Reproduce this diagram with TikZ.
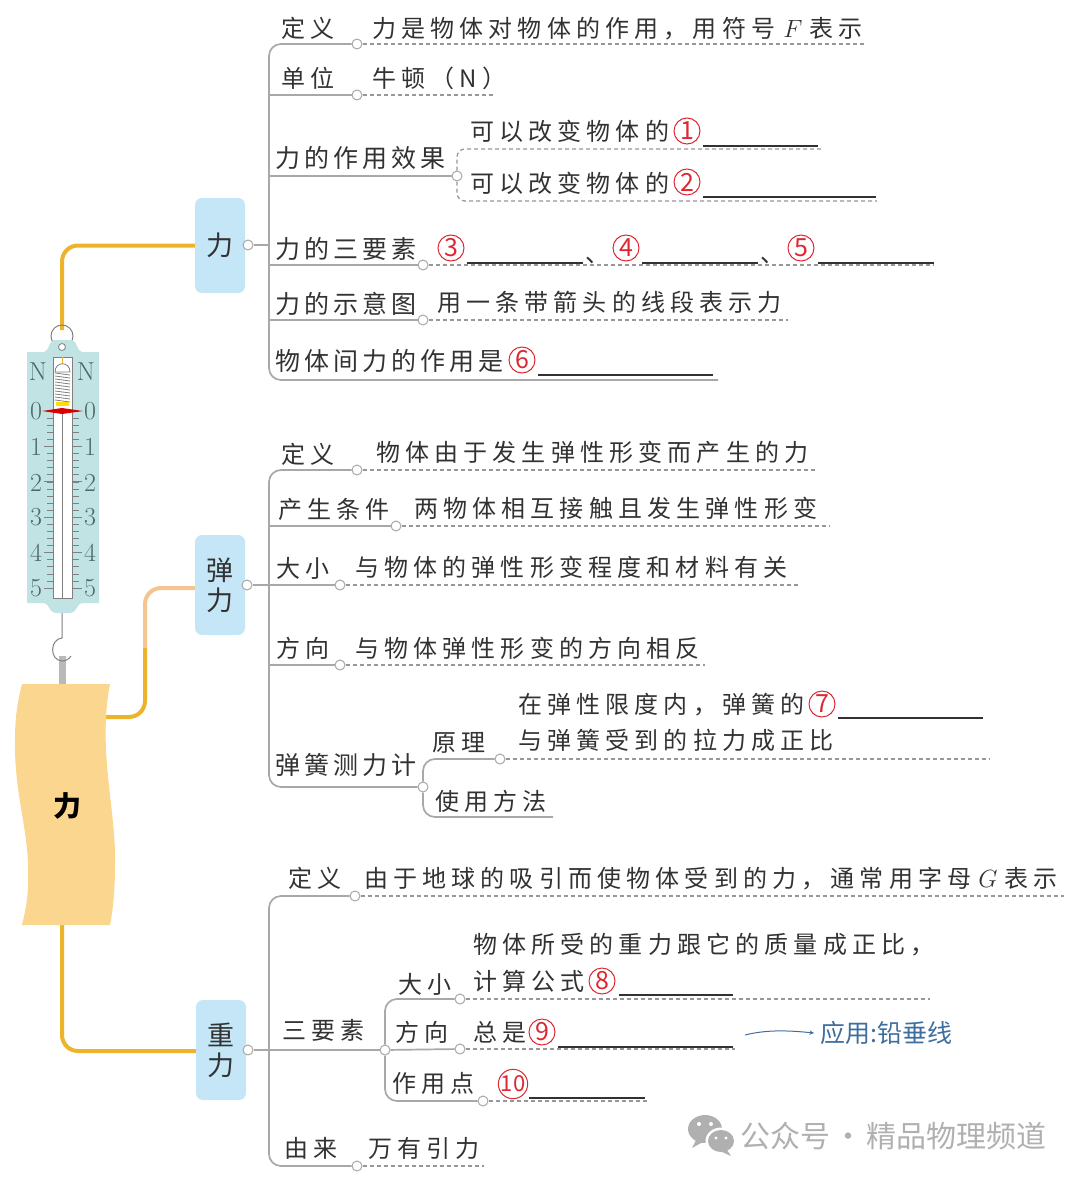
\documentclass[tikz,border=0pt]{standalone}
\usepackage{fontspec}
\newfontfamily\cjk[LetterSpace=21.5]{Noto Sans CJK SC}
\newfontfamily\cjktight[LetterSpace=16]{Noto Sans CJK SC}
\newfontfamily\cjkplain{Noto Sans CJK SC}
\definecolor{ink}{RGB}{50,50,50}
\definecolor{boxcol}{RGB}{196,230,247}
\definecolor{bancol}{RGB}{251,214,142}
\definecolor{oline}{RGB}{237,179,42}
\definecolor{oblass}{RGB}{246,197,143}
\definecolor{gline}{RGB}{168,168,168}
\definecolor{rcol}{RGB}{220,40,50}
\definecolor{dialcol}{RGB}{194,227,227}
\definecolor{dialtxt}{RGB}{75,106,106}
\definecolor{bluecol}{RGB}{63,110,158}
\definecolor{markcol}{RGB}{176,176,176}
\tikzset{lab/.style={anchor=base west,inner sep=0,text=ink,font=\cjk\fontsize{24}{28}\selectfont}}
\tikzset{big/.style={font=\cjktight\fontsize{25}{28}\selectfont}}
\tikzset{main/.style={rectangle,rounded corners=7,fill=boxcol,minimum width=50,minimum height=95,inner sep=0,align=center,text=ink,font=\cjkplain\fontsize{27}{30}\selectfont}}
\tikzset{dot/.style={circle,draw=gline,fill=white,line width=1,inner sep=0,minimum size=10}}
\tikzset{branch/.style={draw=gline,line width=1.7,rounded corners=12}}
\tikzset{leader/.style={draw=gline!90!black,line width=1.3,dash pattern=on 4pt off 3pt}}
\tikzset{blank/.style={draw=ink,line width=1.6}}
\tikzset{numc/.style={circle,draw=rcol,line width=1,inner sep=0,minimum size=26,text=rcol,font=\cjkplain\fontsize{25}{26}\selectfont}}
\tikzset{orange/.style={draw=oline,line width=4,rounded corners=16}}
\tikzset{dial/.style={inner sep=0,text=dialtxt,font=\fontsize{26}{28}\selectfont}}
\begin{document}
\begin{tikzpicture}[x=1pt,y=-1pt]
\useasboundingbox (0,0) rectangle (1080,1180);

\node [main] (fli) at (220,245.5) {力};
\node [main,minimum height=100] (tan) at (220,585) {弹\\力};
\node [main,minimum height=100] (zhong) at (221,1050) {重\\力};

\coordinate (ban1) at (105,717);
\coordinate (ban2) at (62,925);
\coordinate (top1) at (62,330);
\coordinate (mid1) at (145,648);
\draw [orange] (top1) |- (fli.west);
\draw [orange] (ban1) -| (mid1);
\draw [draw=oblass,line width=4,rounded corners=16] (mid1) |- ([yshift=-3]tan.west);
\draw [orange] (ban2) |- ([yshift=-1]zhong.west);

\fill [bancol] (22,684) -- (110,684) .. controls (106,705) and (105,725) .. (106,750) .. controls (108,790) and (116,830) .. (115,865) .. controls (115,890) and (113,910) .. (110,925) -- (22,925) .. controls (27,905) and (29,890) .. (28,865) .. controls (27,825) and (14,790) .. (15,740) .. controls (15,715) and (18,700) .. (22,684) -- cycle;
\node [inner sep=0,text=black,font=\cjkplain\bfseries\fontsize{28}{30}\selectfont] (banner) at (67,806) {力};

\draw [draw=gray!55,line width=7] (62,656) -- (62,684);
\draw [gray,line width=1] (62,613) -- (62,638) .. controls (50,639) and (49,660) .. (62,661) .. controls (66,661) and (69,659) .. (71,656);
\node [circle,draw=gray,line width=1,inner sep=0,minimum size=22] (ring) at (62,336) {};
\fill [dialcol] (27,352) -- (44,352) .. controls (50,350) and (48,342) .. (54,340) -- (72,340) .. controls (78,342) and (76,350) .. (82,352) -- (99,352) -- (99,603) -- (82,603) .. controls (76,604) and (78,612) .. (70,613) -- (56,613) .. controls (48,612) and (50,604) .. (44,603) -- (27,603) -- cycle;
\node [circle,draw=gray,fill=white,line width=.8,inner sep=0,minimum size=7] (eye) at (62,347) {};
\draw [gray,fill=white,line width=.8] (53.5,357) rectangle (72.5,598);
\draw [gray,line width=.8] (62.5,412) -- (62.5,598);
\draw [oline,line width=.8] (62.5,357) -- (62.5,365);
\draw [gray,fill=white,line width=.8] (55,372) .. controls (55,361) and (70,361) .. (70,372) -- cycle;
\foreach \i in {0,...,9} {
  \draw [gray,line width=.8] (55,{373+3*\i}) -- (70,{375+3*\i});
}
\draw [gray,line width=.8] (62.5,402) -- (62.5,406);
\fill [yellow!80!orange] (56,402) rectangle (69,406);
\foreach \i in {0,...,25} {
  \draw [gray,line width=.6] (47,{411+7.08*\i}) -- (53.5,{411+7.08*\i});
  \draw [gray,line width=.6] (72.5,{411+7.08*\i}) -- (79,{411+7.08*\i});
}
\foreach \i in {1,...,5} {
  \draw [gray,line width=.7] (44,{411+35.4*\i}) -- (53.5,{411+35.4*\i});
  \draw [gray,line width=.7] (72.5,{411+35.4*\i}) -- (82,{411+35.4*\i});
}
\fill [red!85!black] (42,411) -- (62,408) -- (83,411) -- (62,414) -- cycle;
\node [dial] (nl) at (38,372) {N};
\node [dial] (nr) at (86,372) {N};
\foreach \v/\y in {0/411,1/447,2/483,3/517,4/553,5/588} {
  \node [dial] (l\v) at (36,\y) {\v};
  \node [dial] (r\v) at (90,\y) {\v};
}

\node [dot] (d1) at (248,245) {};
\node [dot] (d11) at (357,44) {};
\node [dot] (d12) at (357,95) {};
\node [dot] (d13) at (457,176) {};
\node [dot] (d14) at (423,265) {};
\node [dot] (d15) at (423,320) {};
\coordinate (tr1) at (269,380);
\coordinate (l16) at (718,380);
\coordinate (e11) at (866,44);
\coordinate (e12) at (493,95);
\coordinate (e13a) at (821,149);
\coordinate (e13b) at (877,201);
\coordinate (e14) at (934,265);
\coordinate (e15) at (788,320);
\draw [branch] (d11) -| (tr1) -- (l16);
\draw [branch] (d1) -- (d1 -| tr1);
\draw [branch] (d12) -- (d12 -| tr1);
\draw [branch] (d13) -- (d13 -| tr1);
\draw [branch] (d14) -- (d14 -| tr1);
\draw [branch] (d15) -- (d15 -| tr1);
\draw [leader] (d11) -- (e11);
\draw [leader] (d12) -- (e12);
\draw [leader,rounded corners=8] (e13a) -| (d13.north);
\draw [leader,rounded corners=8] (d13.south) |- (e13b);
\draw [leader] (d14) -- (e14);
\draw [leader] (d15) -- (e15);

\node [lab] (a1) at (281,38) {定义};
\node [lab] (a1t) at (372,38) {力是物体对物体的作用，用符号\hspace{8pt}$F$\hspace{7pt}表示};
\node [lab] (a2) at (281,88) {单位};
\node [lab] (a2t) at (372,88) {牛顿（N）};
\node [lab,big] (a3) at (275,167) {力的作用效果};
\node [lab] (a3a) at (470,140) {可以改变物体的};
\node [lab] (a3b) at (470,192) {可以改变物体的};
\node [numc] (n1) at (687,131) {1};
\node [numc] (n2) at (687,182) {2};
\coordinate (b1a) at (703,146);
\coordinate (b1b) at (818,146);
\coordinate (b2a) at (703,197);
\coordinate (b2b) at (876,197);
\draw [blank] (b1a) -- (b1b);
\draw [blank] (b2a) -- (b2b);
\node [lab,big] (a4) at (275,258) {力的三要素};
\node [numc] (n3) at (451,248) {3};
\node [numc] (n4) at (626,248) {4};
\node [numc] (n5) at (801,248) {5};
\coordinate (b3a) at (467,263);
\coordinate (b3b) at (583,263);
\coordinate (b4a) at (642,263);
\coordinate (b4b) at (758,263);
\coordinate (b5a) at (818,263);
\coordinate (b5b) at (934,263);
\draw [blank] (b3a) -- (b3b);
\draw [blank] (b4a) -- (b4b);
\draw [blank] (b5a) -- (b5b);
\node [lab] (c1) at (585,262) {、};
\node [lab] (c2) at (760,262) {、};
\node [lab,big] (a5) at (275,313) {力的示意图};
\node [lab] (a5t) at (437,311) {用一条带箭头的线段表示力};
\node [lab,big] (a6) at (275,370) {物体间力的作用是};
\node [numc] (n6) at (522,360) {6};
\coordinate (b6a) at (538,375);
\coordinate (b6b) at (713,375);
\draw [blank] (b6a) -- (b6b);

\node [dot] (d2) at (247,585) {};
\node [dot] (d21) at (357,470) {};
\node [dot] (d22) at (396,526) {};
\node [dot] (d23) at (340,585) {};
\node [dot] (d24) at (340,665) {};
\node [dot] (d25) at (423,787) {};
\node [dot] (d26) at (500,759) {};
\coordinate (tr2) at (269,787);
\coordinate (l27) at (553,817);
\coordinate (e21) at (815,470);
\coordinate (e22) at (830,526);
\coordinate (e23) at (800,585);
\coordinate (e24) at (705,665);
\coordinate (e26) at (990,759);
\draw [branch] (d21) -| (tr2) -- (d25);
\draw [branch] (d2) -- (d2 -| tr2);
\draw [branch] (d22) -- (d22 -| tr2);
\draw [branch] (d23) -- (d23 -| tr2);
\draw [branch] (d24) -- (d24 -| tr2);
\draw [branch] (d26) -| (d25.north);
\draw [branch] (d25.south) |- (l27);
\draw [leader] (d21) -- (e21);
\draw [leader] (d22) -- (e22);
\draw [leader] (d23) -- (e23);
\draw [leader] (d24) -- (e24);
\draw [leader] (d26) -- (e26);

\node [lab] (f1) at (281,463) {定义};
\node [lab] (f1t) at (376,461) {物体由于发生弹性形变而产生的力};
\node [lab] (f2) at (278,518) {产生条件};
\node [lab] (f2t) at (414,517) {两物体相互接触且发生弹性形变};
\node [lab] (f3) at (276,577) {大小};
\node [lab] (f3t) at (355,576) {与物体的弹性形变程度和材料有关};
\node [lab] (f4) at (276,657) {方向};
\node [lab] (f4t) at (355,657) {与物体弹性形变的方向相反};
\node [lab,big] (f5) at (275,774) {弹簧测力计};
\node [lab] (f6) at (432,751) {原理};
\node [lab] (f6a) at (518,713) {在弹性限度内，弹簧的};
\node [lab] (f6b) at (518,749) {与弹簧受到的拉力成正比};
\node [numc] (n7) at (822,704) {7};
\coordinate (b7a) at (838,718);
\coordinate (b7b) at (983,718);
\draw [blank] (b7a) -- (b7b);
\node [lab] (f7) at (435,810) {使用方法};

\node [dot] (d3) at (248,1050) {};
\node [dot] (d31) at (355,896) {};
\node [dot] (d32) at (385,1050) {};
\node [dot] (d33) at (460,999) {};
\node [dot] (d34) at (460,1049) {};
\node [dot] (d35) at (483,1101) {};
\node [dot] (d36) at (357,1166) {};
\coordinate (tr3) at (269,1166);
\coordinate (e31) at (1064,896);
\coordinate (e33) at (930,999);
\coordinate (e34) at (735,1049);
\coordinate (e35) at (647,1101);
\coordinate (e36) at (484,1166);
\draw [branch] (d31) -| (tr3) -- (d36);
\draw [branch] (d3) -- (d32);
\draw [branch] (d33) -| (d32.north);
\draw [branch] (d32.south) |- (d35);
\draw [branch] (d32) -- (d34);
\draw [leader] (d31) -- (e31);
\draw [leader] (d33) -- (e33);
\draw [leader] (d34) -- (e34);
\draw [leader] (d35) -- (e35);
\draw [leader] (d36) -- (e36);

\node [lab] (g1) at (288,887) {定义};
\node [lab] (g1t) at (364,887) {由于地球的吸引而使物体受到的力，通常用字母\hspace{7pt}$G$\hspace{7pt}表示};
\node [lab] (g2) at (282,1039) {三要素};
\node [lab] (g3) at (398,993) {大小};
\node [lab] (g3a) at (473,953) {物体所受的重力跟它的质量成正比，};
\node [lab] (g3b) at (473,990) {计算公式};
\node [numc] (n8) at (602,981) {8};
\coordinate (b8a) at (619,995);
\coordinate (b8b) at (733,995);
\draw [blank] (b8a) -- (b8b);
\node [lab] (g4) at (395,1041) {方向};
\node [lab] (g4t) at (473,1041) {总是};
\node [numc] (n9) at (542,1032) {9};
\coordinate (b9a) at (558,1047);
\coordinate (b9b) at (733,1047);
\draw [blank] (b9a) -- (b9b);
\node [lab] (g5) at (392,1092) {作用点};
\node [numc,font=\cjkplain\fontsize{22}{24}\selectfont] (n10) at (513,1084) {10};
\coordinate (b10a) at (529,1098);
\coordinate (b10b) at (645,1098);
\draw [blank] (b10a) -- (b10b);
\node [lab] (g6) at (284,1157) {由来};
\node [lab] (g6t) at (368,1157) {万有引力};

\node [anchor=base west,inner sep=0,text=bluecol,font=\cjkplain\fontsize{25}{28}\selectfont] (yong) at (820,1042) {应用:铅垂线};
\coordinate (ar) at (745,1035);
\coordinate (az) at (814,1033);
\draw [bluecol,line width=1,-stealth] (ar) .. controls (765,1030) and (785,1030) .. (az);

\fill [markcol] (705,1129) ellipse (17 and 14);
\fill [markcol] (696,1140) -- (692,1148) -- (703,1142) -- cycle;
\fill [white] (721,1141) ellipse (15.5 and 13.5);
\fill [markcol] (721,1141) ellipse (13 and 11);
\fill [markcol] (727,1150) -- (731,1156) -- (720,1151) -- cycle;
\fill [white] (699,1124) circle (2);
\fill [white] (711,1124) circle (2);
\fill [white] (716,1138) circle (1.6);
\fill [white] (726,1138) circle (1.6);
\node [anchor=base west,inner sep=0,text=markcol,font=\cjkplain\fontsize{30}{32}\selectfont] (mark) at (740,1147) {公众号\hspace{3pt}·\hspace{3pt}精品物理频道};
\end{tikzpicture}
\end{document}
